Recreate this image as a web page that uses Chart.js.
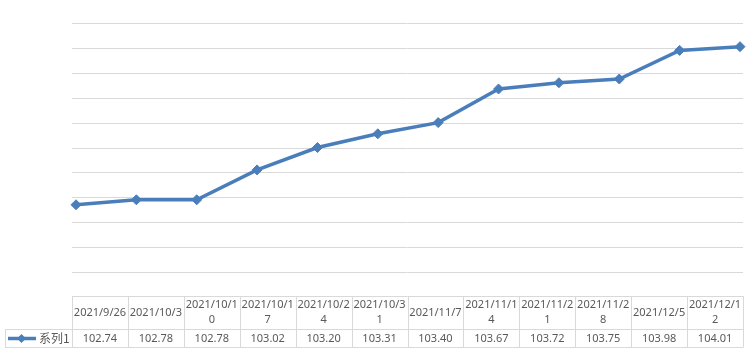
<!DOCTYPE html>
<html>
<head>
<meta charset="utf-8">
<script src="https://cdn.jsdelivr.net/npm/chart.js@4/dist/chart.umd.min.js"></script>
<style>
 html, body { margin: 0; padding: 0; background: #fff; }
 #wrap { width: 752px; height: 363px; }
</style>
</head>
<body>
<div id="wrap"><canvas id="line-chart" width="752" height="363"></canvas></div>
<script>
// Chart values
const dates = ["2021/9/26", "2021/10/3", "2021/10/10", "2021/10/17", "2021/10/24", "2021/10/31",
 "2021/11/7", "2021/11/14", "2021/11/21", "2021/11/28", "2021/12/5", "2021/12/12"];
const seriesName = "系列1";
const seriesValues = [102.74, 102.78, 102.78, 103.02, 103.20, 103.31, 103.40, 103.67, 103.72, 103.75, 103.98, 104.01];
const yMin = 102.2;
const yMax = 104.2;
const yStep = 0.2;

const lineColor = "#4A7EBB";
const gridColor = "#D9D9D9";
const textColor = "#595959";
const fontStr = "11px 'Noto Sans', sans-serif";

// grid + table box edges
const tableLeft = 72;
const tableRight = 743;

// Gridlines drawn by hand so they can start left of the first point
const gridPlugin = {
 id: "gridLines",
 beforeDatasetsDraw(chart) {
  const ctx = chart.ctx;
  const y = chart.scales.y;
  ctx.save();
  ctx.strokeStyle = gridColor;
  ctx.lineWidth = 1;
  y.ticks.forEach((t) => {
   const py = Math.round(y.getPixelForValue(t.value)) + 0.5;
   ctx.beginPath();
   ctx.moveTo(tableLeft, py);
   ctx.lineTo(tableRight, py);
   ctx.stroke();
  });
  ctx.restore();
 },
};

// break a label into lines by characters when it doesn't fit
function wrapChars(ctx, text, maxWidth) {
 const lines = [];
 let cur = "";
 for (const ch of text) {
  if (ctx.measureText(cur + ch).width > maxWidth && cur) {
   lines.push(cur);
   cur = ch;
  } else {
   cur += ch;
  }
 }
 if (cur) lines.push(cur);
 return lines;
}

// Data table under the plot
const tablePlugin = {
 id: "dataTable",
 afterDraw(chart) {
  const ctx = chart.ctx;
  const top = 296, mid = 329.5, bottom = 347.5;
  const legendLeft = 5;
  const colW = (tableRight - tableLeft) / dates.length;
  ctx.save();
  ctx.strokeStyle = gridColor;
  ctx.lineWidth = 1;
  ctx.beginPath();
  // horizontal lines
  ctx.moveTo(tableLeft, top + 0.5); ctx.lineTo(tableRight, top + 0.5);
  ctx.moveTo(legendLeft, mid); ctx.lineTo(tableRight, mid);
  ctx.moveTo(legendLeft, bottom); ctx.lineTo(tableRight, bottom);
  // vertical lines
  ctx.moveTo(legendLeft + 0.5, mid); ctx.lineTo(legendLeft + 0.5, bottom);
  for (let i = 0; i <= dates.length; i++) {
   const x = Math.round(tableLeft + i * colW) + 0.5;
   ctx.moveTo(x, top); ctx.lineTo(x, bottom);
  }
  ctx.stroke();

  ctx.font = fontStr;
  ctx.fillStyle = textColor;
  ctx.textAlign = "center";
  ctx.textBaseline = "middle";
  dates.forEach((d, i) => {
   const cx = tableLeft + (i + 0.5) * colW;
   const lines = wrapChars(ctx, d, colW - 2);
   const lh = 15;
   const startY = (top + mid) / 2 - ((lines.length - 1) * lh) / 2;
   lines.forEach((ln, k) => ctx.fillText(ln, cx, startY + k * lh));
   ctx.fillText(seriesValues[i].toFixed(2), cx, (mid + bottom) / 2 + 0.5);
  });

  // legend key in the row header
  const ly = (mid + bottom) / 2;
  ctx.strokeStyle = lineColor;
  ctx.lineWidth = 3.5;
  ctx.beginPath();
  ctx.moveTo(8, ly); ctx.lineTo(36, ly);
  ctx.stroke();
  ctx.fillStyle = lineColor;
  ctx.beginPath();
  ctx.moveTo(21.5, ly - 4.5); ctx.lineTo(26, ly); ctx.lineTo(21.5, ly + 4.5); ctx.lineTo(17, ly);
  ctx.closePath();
  ctx.fill();
  ctx.fillStyle = textColor;
  ctx.textAlign = "left";
  ctx.font = "12px 'Noto Sans CJK SC', 'Noto Sans', sans-serif";
  ctx.fillText(seriesName, 39, ly);
  ctx.restore();
 },
};

const data = {
 labels: dates,
 datasets: [
  {
   label: seriesName,
   data: seriesValues,
   borderColor: lineColor,
   backgroundColor: lineColor,
   borderWidth: 3.5,
   pointStyle: "rectRot",
   pointRadius: 5,
   pointHoverRadius: 5,
   pointBackgroundColor: lineColor,
   pointBorderColor: lineColor,
   pointBorderWidth: 1,
   tension: 0,
   clip: false,
  },
 ],
};

const config = {
 type: "line",
 data: data,
 options: {
  responsive: false,
  animation: false,
  layout: {
   padding: { top: 23, left: 76, right: 12, bottom: 91 },
  },
  plugins: {
   legend: { display: false },
   tooltip: { enabled: false },
  },
  scales: {
   x: {
    display: false,
    offset: false,
   },
   y: {
    display: false,
    min: yMin,
    max: yMax,
    ticks: { stepSize: yStep },
   },
  },
 },
 plugins: [gridPlugin, tablePlugin],
};

const lineChart = new Chart(document.getElementById("line-chart"), config);
</script>
</body>
</html>
